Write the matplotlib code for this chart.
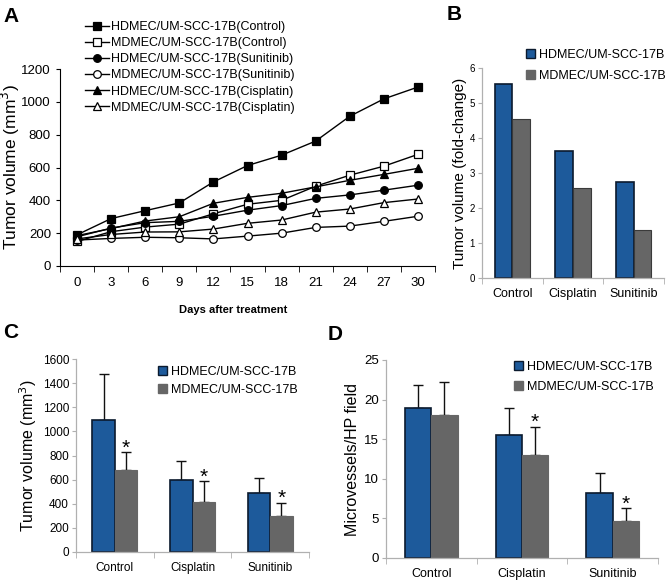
import matplotlib
matplotlib.use('Agg')
import numpy as np
import matplotlib.pyplot as plt
from matplotlib.patches import Patch

plt.rcParams['font.family'] = ['Liberation Sans', 'DejaVu Sans']
NARROW = ['Liberation Sans Narrow', 'Liberation Sans', 'DejaVu Sans']

# panel A: tumour growth curves
days = [0, 3, 6, 9, 12, 15, 18, 21, 24, 27, 30]
hd_control = [190, 289, 337, 384, 512, 612, 675, 761, 912, 1018, 1090]
md_control = [150, 209, 237, 255, 318, 376, 400, 486, 553, 608, 680]
hd_sunitinib = [178, 231, 264, 272, 303, 340, 368, 412, 433, 462, 492]
md_sunitinib = [158, 168, 175, 172, 165, 182, 200, 235, 243, 272, 303]
hd_cisplatin = [185, 228, 274, 300, 382, 418, 443, 482, 522, 558, 595]
md_cisplatin = [165, 192, 207, 208, 225, 260, 280, 328, 347, 386, 408]

# panels B-D
groups = ['Control', 'Cisplatin', 'Sunitinib']
fold_hd = [5.55, 3.62, 2.75]
fold_md = [4.53, 2.58, 1.38]
vol_hd = [1091, 594, 489]
vol_hd_err = [387, 163, 121]
vol_md = [682, 415, 301]
vol_md_err = [144, 170, 108]
mvd_hd = [18.9, 15.5, 8.22]
mvd_hd_err = [3.0, 3.4, 2.45]
mvd_md = [18.05, 13.0, 4.68]
mvd_md_err = [4.2, 3.57, 1.64]

lbl_hd = 'HDMEC/UM-SCC-17B'
lbl_md = 'MDMEC/UM-SCC-17B'
BLUE = '#1d5a9b'
GRAY = '#666666'
W, H = 670, 586


def box(l, t, r, b):
    return [l / W, 1 - b / H, (r - l) / W, (b - t) / H]


fig = plt.figure(figsize=(6.7, 5.86), dpi=100)

# ---------- A ----------
axA = fig.add_axes(box(60, 69, 435, 266))
series = [
    (hd_control, 's', 'black', lbl_hd + '(Control)', 6),
    (md_control, 's', 'white', lbl_md + '(Control)', 6),
    (hd_sunitinib, 'o', 'black', lbl_hd + '(Sunitinib)', 5.5),
    (md_sunitinib, 'o', 'white', lbl_md + '(Sunitinib)', 5.5),
    (hd_cisplatin, '^', 'black', lbl_hd + '(Cisplatin)', 6),
    (md_cisplatin, '^', 'white', lbl_md + '(Cisplatin)', 6),
]
for vals, mk, fc, lab, ms in series:
    axA.plot(days, vals, color='black', lw=1, marker=mk, ms=ms,
             mfc=fc, mec='black', mew=0.9, label=lab)
axA.set_xlim(-1.5, 31.5)
axA.set_ylim(0, 1200)
axA.set_yticks(range(0, 1201, 200))
axA.set_xticks(days)
axA.set_xticks(np.arange(-1.5, 32, 3), minor=True)
axA.tick_params(axis='x', which='major', length=0, pad=8)
axA.tick_params(axis='x', which='minor', length=4, direction='out')
axA.tick_params(axis='y', length=3, direction='out')
for t in axA.get_xticklabels() + axA.get_yticklabels():
    t.set_family(NARROW)
    t.set_fontsize(9.5)
for s in ['top', 'right']:
    axA.spines[s].set_visible(False)
# label coords give the right edge of the rotated text
axA.set_ylabel('Tumor volume (mm$^3$)', fontsize=12.5)
axA.yaxis.set_label_coords(-0.102, 0.5)
axA.set_xlabel('Days after treatment', fontweight='bold', fontsize=8)
axA.xaxis.set_label_coords(0.463, -0.20)
axA.legend(loc='upper left', bbox_to_anchor=(85 / W, 1 - 21 / H),
           bbox_transform=fig.transFigure, frameon=False, fontsize=9,
           labelspacing=0.33, handlelength=1.9, handletextpad=0.2,
           borderpad=0, borderaxespad=0)


def bar_panel(ax, hd, md, hd_err=None, md_err=None, bar_edge=False):
    x = np.arange(len(groups))
    w = 0.29
    ax.bar(x - w / 2, hd, w, color=BLUE, edgecolor='#0b1a2e', lw=1.2, zorder=2)
    ax.bar(x + w / 2, md, w, color=GRAY,
           edgecolor='#3a3a3a' if bar_edge else GRAY, lw=0.8, zorder=2)
    if hd_err is not None:
        ax.errorbar(x - w / 2, hd, yerr=[np.zeros(3), hd_err], fmt='none',
                    ecolor='#111111', elinewidth=1, capsize=3.5, capthick=1, zorder=1)
        ax.errorbar(x + w / 2, md, yerr=[np.zeros(3), md_err], fmt='none',
                    ecolor='#111111', elinewidth=1, capsize=3.5, capthick=1, zorder=1)
    ax.set_xlim(-0.5, 2.5)
    ax.set_xticks(x)
    ax.set_xticklabels(groups)
    ax.set_xticks([-0.5, 0.5, 1.5, 2.5], minor=True)
    ax.tick_params(axis='x', which='major', length=0, pad=7)
    ax.tick_params(axis='x', which='minor', length=4, color='#b0b0b0')
    ax.tick_params(axis='y', length=3, pad=2, color='#b0b0b0')
    for s in ['top', 'right']:
        ax.spines[s].set_visible(False)
    for s in ['left', 'bottom']:
        ax.spines[s].set_color('#b0b0b0')
        ax.spines[s].set_linewidth(0.9)
    return x, w


def bar_legend(ax, anchor, spacing):
    h = [Patch(facecolor=BLUE, edgecolor='#0b1a2e', lw=1),
         Patch(facecolor=GRAY, edgecolor=GRAY, lw=1)]
    ax.legend(h, [lbl_hd, lbl_md], loc='upper left', bbox_to_anchor=anchor,
              bbox_transform=fig.transFigure, frameon=False, fontsize=9,
              handlelength=0.75, handleheight=0.75, handletextpad=0.3,
              labelspacing=spacing, borderpad=0, borderaxespad=0)


def stars(ax, xs, tops):
    for xi, top in zip(xs, tops):
        ax.annotate('*', (xi, top), xytext=(0, -4), textcoords='offset points',
                    ha='center', va='bottom', fontsize=15)


# ---------- B ----------
axB = fig.add_axes(box(482, 68, 664, 278))
bar_panel(axB, fold_hd, fold_md, bar_edge=True)
axB.set_ylim(0, 6)
axB.set_yticks(range(0, 7))
axB.tick_params(axis='y', labelsize=7)
axB.tick_params(axis='x', labelsize=9)
axB.set_ylabel('Tumor volume (fold-change)', fontsize=11)
axB.yaxis.set_label_coords(-0.08, 0.5)
bar_legend(axB, (526 / W, 1 - 49 / H), 0.7)

# ---------- C ----------
axC = fig.add_axes(box(76, 359, 309, 552))
x, w = bar_panel(axC, vol_hd, vol_md, vol_hd_err, vol_md_err)
axC.set_ylim(0, 1600)
axC.set_yticks(range(0, 1601, 200))
axC.tick_params(axis='y', labelsize=8.5)
axC.tick_params(axis='x', labelsize=8.5)
axC.set_ylabel('Tumor volume (mm$^3$)', fontsize=11.5)
axC.yaxis.set_label_coords(-0.16, 0.5)
stars(axC, x + w / 2, np.add(vol_md, vol_md_err))
bar_legend(axC, (158 / W, 1 - 366 / H), 0.45)

# ---------- D ----------
axD = fig.add_axes(box(386, 360, 658, 558))
x, w = bar_panel(axD, mvd_hd, mvd_md, mvd_hd_err, mvd_md_err)
axD.set_ylim(0, 25)
axD.set_yticks(range(0, 26, 5))
axD.tick_params(axis='y', labelsize=9.5)
axD.tick_params(axis='x', labelsize=9)
axD.set_ylabel('Microvessels/HP field', fontsize=11.5)
axD.yaxis.set_label_coords(-0.095, 0.5)
stars(axD, (x + w / 2)[1:], np.add(mvd_md, mvd_md_err)[1:])
bar_legend(axD, (514 / W, 1 - 361 / H), 0.6)

# panel letters
for letter, px, py in [('A', 3, 22), ('B', 447, 20), ('C', 3, 338), ('D', 328, 340)]:
    fig.text(px / W, 1 - py / H, letter, fontsize=15, fontweight='bold',
             ha='left', va='baseline')

fig.savefig('out.png', dpi=100)
